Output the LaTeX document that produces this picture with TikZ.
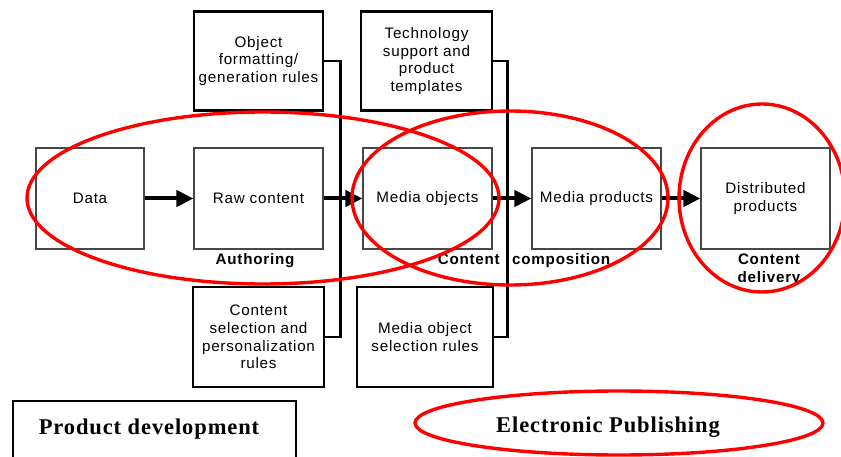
\documentclass[tikz,border=0pt]{standalone}
\usepackage{fontspec}
\setmainfont{Liberation Sans}
\newfontfamily\titlefont{Liberation Serif}
\usetikzlibrary{arrows.meta}

% text faces used in the chart
\newcommand\boxfont{\fontsize{15.2}{17.6}\selectfont\addfontfeature{LetterSpace=5}}
\newcommand\stagefont{\fontsize{15.2}{17.6}\selectfont\bfseries\addfontfeature{LetterSpace=5}}
\newcommand\areafont{\titlefont\fontsize{22.5}{26}\selectfont\bfseries\addfontfeature{LetterSpace=4}}

\begin{document}
\begin{tikzpicture}[x=1pt,y=-1pt,
  mainbox/.style={draw=black!72, line width=1.1pt, inner sep=0pt,
    minimum height=101pt, align=center, font=\boxfont},
  rulebox/.style={draw=black, line width=2.6pt, inner sep=0pt,
    align=center, font=\boxfont},
  flow/.style={line width=4pt, -{Triangle[length=17pt,width=16pt]}},
  link/.style={line width=2.6pt},
  area/.style={draw=red, line width=3.4pt},
  stage/.style={font=\stagefont, align=center, inner sep=0pt},
  legend/.style={font=\areafont, inner sep=0pt},
]
\useasboundingbox (0,0) rectangle (841,457);

% main production chain
\node[mainbox, minimum width=108pt] (data)  at (90,198.5)    {Data};
\node[mainbox, minimum width=129pt] (raw)   at (258.5,198.5) {Raw content};
\node[mainbox, minimum width=129pt] (mobj)  at (427.5,198.5) {Media objects};
\node[mainbox, minimum width=129pt] (mprod) at (596.5,198.5) {Media products};
\node[mainbox, minimum width=129pt] (dist)  at (765.5,198.5) {Distributed\\products};

% rule boxes above and below the chain
\node[rulebox, minimum width=129pt, minimum height=99pt] (fmt)  at (258.5,61)
  {Object\\formatting/\\generation rules};
\node[rulebox, minimum width=131pt, minimum height=99pt] (tech) at (426.5,61)
  {Technology\\support and\\product\\templates};
\node[rulebox, minimum width=131pt, minimum height=100pt] (csel) at (258.5,337)
  {Content\\selection and\\personalization\\rules};
\node[rulebox, minimum width=136pt, minimum height=100pt] (msel) at (425,337)
  {Media object\\selection rules};

% brackets joining each pair of rule boxes
\draw[link] (fmt.east) -- ++(16,0) |- (csel.east);
\draw[link] (tech.east) -- ++(14,0) |- (msel.east);

% flow arrows
\draw[flow] (data) -- (raw);
\draw[flow] (raw) -- (mobj);
\draw[flow] (mobj) -- (mprod);
\draw[flow] (mprod) -- (dist);

% stage captions
\node[stage, anchor=base] (auth) at (255,265) {Authoring};
\node[stage, anchor=base east] (comp1) at (500,265) {Content};
\node[stage, anchor=base west] (comp2) at (512,265) {composition};
\node[stage, anchor=base] (deliv1) at (769,265) {Content};
\node[stage, anchor=base] (deliv2) at (769,282.5) {delivery};

% legend
\draw[line width=2.4pt] (13,462) |- (296,401) -- (296,462);
\node[legend, anchor=base] (pdev) at (149,434) {Product development};
\node[legend, anchor=base] (epub) at (608,432) {Electronic Publishing};

% electronic publishing areas
\draw[area] (263,198) ellipse [x radius=236pt, y radius=86pt];
\draw[area] (510,198) ellipse [x radius=158pt, y radius=87pt];
\draw[area] (762,198) ellipse [x radius=83pt, y radius=94pt];
\draw[area] (619,423) ellipse [x radius=204pt, y radius=32pt];
\end{tikzpicture}
\end{document}
